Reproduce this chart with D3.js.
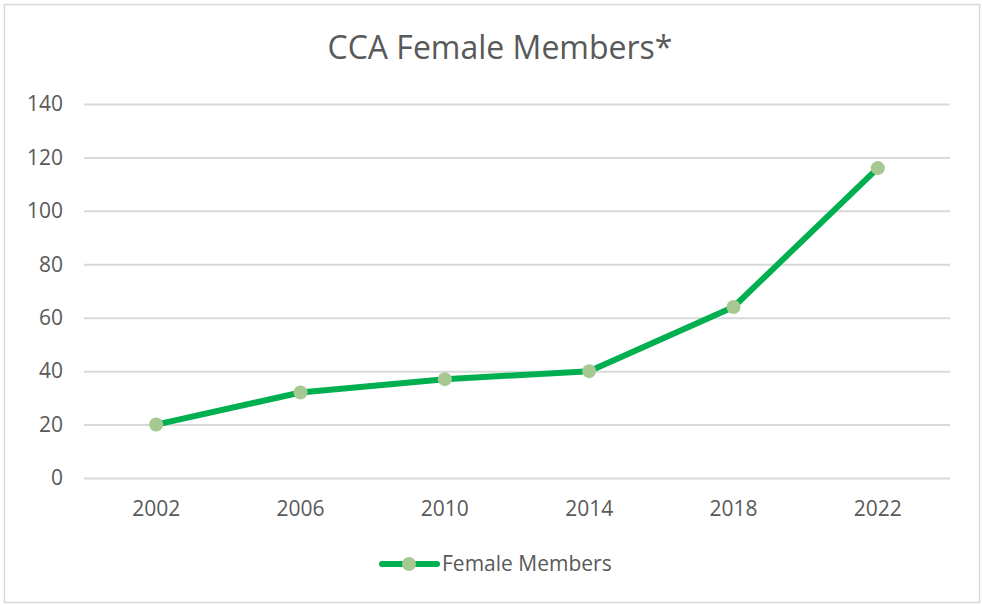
<!DOCTYPE html>
<html>
<head>
<meta charset="utf-8">
<script src="https://cdn.jsdelivr.net/npm/d3@7"></script>
<style>
  body { margin: 0; background: #fff; }
  svg text { font-family: "Open Sans", "Noto Sans", sans-serif; fill: #595959; }
</style>
</head>
<body>
<svg id="chart" width="982" height="605"></svg>
<script>
const years = ["2002", "2006", "2010", "2014", "2018", "2022"];
const femaleMembers = [20, 32, 37, 40, 64, 116];
const yTicks = [0, 20, 40, 60, 80, 100, 120, 140];
const seriesName = "Female Members";
const chartTitle = "CCA Female Members*";

const lineColor = "#00b050";
const markerColor = "#a5c990";
const plotLeft = 84, plotRight = 950, plotTop = 104, plotBottom = 478;

const svg = d3.select("#chart");

// outer frame
svg.append("rect")
    .attr("x", 4.5).attr("y", 4.5)
    .attr("width", 975).attr("height", 598)
    .attr("fill", "#fff")
    .attr("stroke", "#d9d9d9")
    .attr("stroke-width", 1.5);

svg.append("text")
    .attr("x", 500).attr("y", 59)
    .attr("text-anchor", "middle")
    .style("font-size", "32px")
    .text(chartTitle);

const x = d3.scaleBand().domain(years).range([plotLeft, plotRight]);
const y = d3.scaleLinear().domain([0, 140]).range([plotBottom, plotTop]);

// grid + y labels
const yAxis = svg.append("g")
    .attr("transform", "translate(" + plotLeft + ",0)")
    .call(d3.axisLeft(y).tickValues(yTicks).tickSize(-(plotRight - plotLeft)).tickPadding(21));
yAxis.select(".domain").remove();
yAxis.selectAll(".tick line").attr("stroke", "#d9d9d9").attr("stroke-width", 2);
yAxis.selectAll(".tick text").style("font-size", "21px").attr("fill", "#595959");

const xAxis = svg.append("g")
    .attr("transform", "translate(0," + plotBottom + ")")
    .call(d3.axisBottom(x).tickSize(0).tickPadding(23));
xAxis.select(".domain").remove();
xAxis.selectAll(".tick text").style("font-size", "21px").attr("fill", "#595959");

const pts = years.map((yr, i) => ({ year: yr, value: femaleMembers[i] }));

const line = d3.line()
    .x(d => x(d.year) + x.bandwidth() / 2)
    .y(d => y(d.value));

svg.append("path")
    .datum(pts)
    .attr("d", line)
    .attr("fill", "none")
    .attr("stroke", lineColor)
    .attr("stroke-width", 6)
    .attr("stroke-linejoin", "round")
    .attr("stroke-linecap", "round");

svg.selectAll("circle.pt")
    .data(pts)
    .enter().append("circle")
    .attr("class", "pt")
    .attr("cx", d => x(d.year) + x.bandwidth() / 2)
    .attr("cy", d => y(d.value))
    .attr("r", 7)
    .attr("fill", markerColor);

// legend
const lg = svg.append("g").attr("transform", "translate(380,564)");
lg.append("line")
    .attr("x1", 2).attr("x2", 57)
    .attr("stroke", lineColor).attr("stroke-width", 6)
    .attr("stroke-linecap", "round");
lg.append("circle").attr("cx", 29).attr("r", 7).attr("fill", markerColor);
lg.append("text")
    .attr("x", 62).attr("dy", "0.35em")
    .style("font-size", "21px")
    .text(seriesName);
</script>
</body>
</html>
